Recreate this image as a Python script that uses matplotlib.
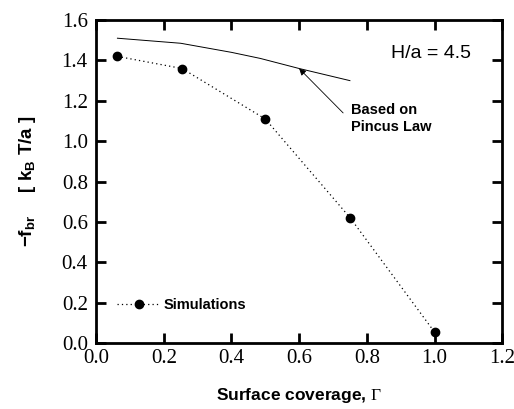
import matplotlib
matplotlib.use("Agg")
import matplotlib.pyplot as plt

plt.rcParams["mathtext.fontset"] = "custom"
plt.rcParams["mathtext.rm"] = "Liberation Serif"
plt.rcParams["mathtext.bf"] = "Liberation Sans:bold"
plt.rcParams["mathtext.it"] = "Liberation Sans:italic"

# simulation points
sim_x = [0.063, 0.254, 0.50, 0.751, 1.0]
sim_y = [1.42, 1.36, 1.11, 0.62, 0.055]

# Pincus law curve
pin_x = [0.063, 0.25, 0.40, 0.485, 0.60, 0.75]
pin_y = [1.51, 1.485, 1.44, 1.41, 1.36, 1.30]

xticks = [0.0, 0.2, 0.4, 0.6, 0.8, 1.0, 1.2]
yticks = [0.0, 0.2, 0.4, 0.6, 0.8, 1.0, 1.2, 1.4, 1.6]

fig = plt.figure(figsize=(5.14, 4.09), dpi=100)
ax = fig.add_axes([0.187, 0.161, 0.79, 0.79])

ax.plot(pin_x, pin_y, color="black", lw=0.7)
ax.plot(sim_x, sim_y, color="black", ls=(0, (1, 2.5)), lw=0.9,
        marker="o", ms=6, label="Simulations")

ax.set_xlim(0, 1.2)
ax.set_ylim(0, 1.6)
ax.set_xticks(xticks)
ax.set_yticks(yticks)
ax.set_xticklabels([f"{v:.1f}" for v in xticks], family="Liberation Serif", fontsize=15)
ax.set_yticklabels([f"{v:.1f}" for v in yticks], family="Liberation Serif", fontsize=15)
ax.tick_params(direction="in", length=7, width=2, top=True, right=True, pad=6)
ax.tick_params(axis="x", pad=4)
for s in ax.spines.values():
    s.set_linewidth(2)

ax.set_xlabel(r"Surface coverage, $\Gamma$", family="Liberation Sans",
              fontweight="bold", fontsize=12.5, labelpad=13)
ax.set_ylabel(r"$\mathbf{-f_{br}}$    $\mathbf{[\ k_B\ T/a\ ]}$", fontsize=13.5, labelpad=17)

ax.text(0.87, 1.435, "H/a = 4.5", family="Liberation Sans", fontsize=14, va="center")
ax.text(0.754, 1.19, "Based on\nPincus Law", family="Liberation Sans",
        fontweight="bold", fontsize=10.5, ha="left", va="top", linespacing=1.3)
ax.annotate("", xy=(0.60, 1.36), xytext=(0.73, 1.14),
            arrowprops=dict(arrowstyle="-|>", color="black", lw=0.6,
                            mutation_scale=10, shrinkA=0, shrinkB=0))

ax.legend(loc="lower left", bbox_to_anchor=(0.02, 0.055), frameon=False,
          handlelength=2.9, handletextpad=0.3, numpoints=1,
          prop={"family": "Liberation Sans", "weight": "bold", "size": 10.5})

fig.savefig("out.png", dpi=100)
